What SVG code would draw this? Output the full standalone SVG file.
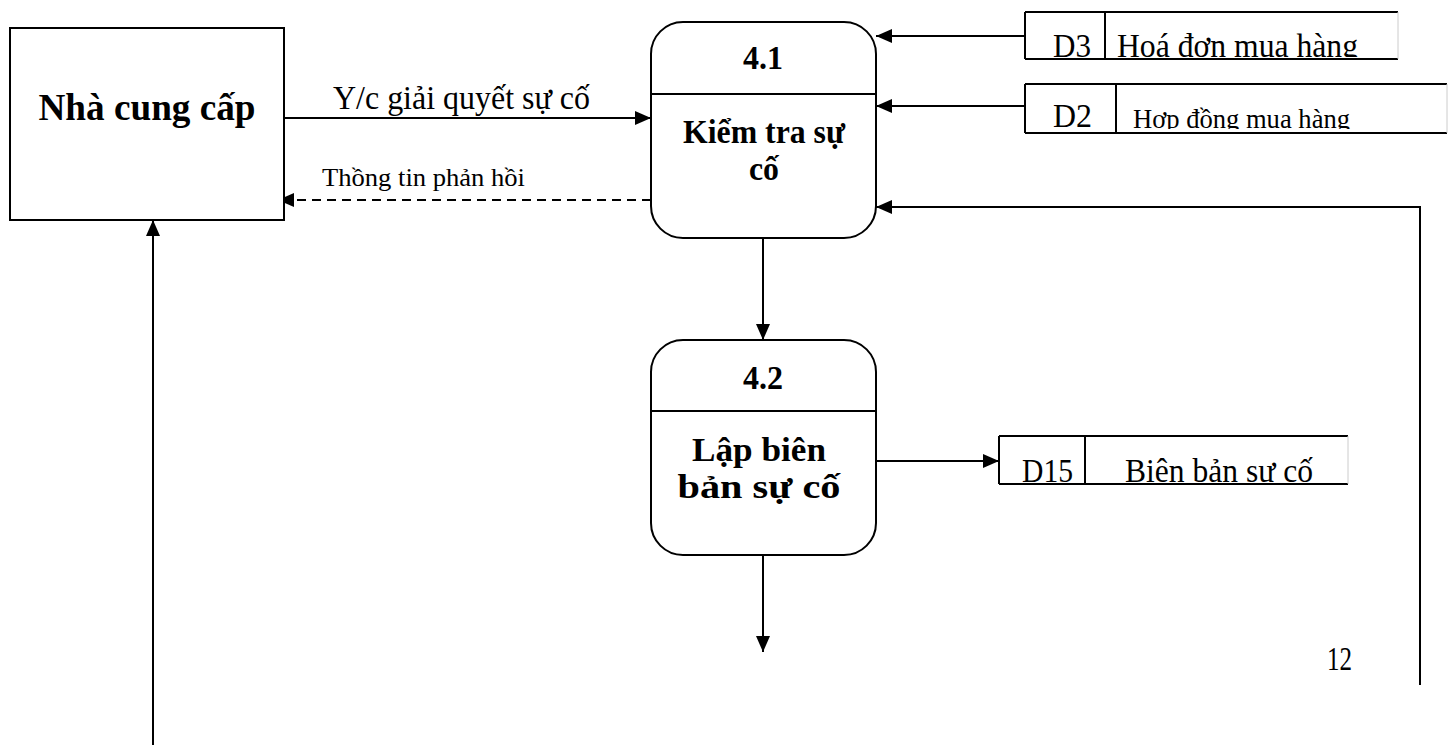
<svg xmlns="http://www.w3.org/2000/svg" width="1454" height="745" viewBox="0 0 1454 745">
<defs>
<marker id="ah" markerUnits="userSpaceOnUse" markerWidth="16" markerHeight="14" refX="16" refY="7" orient="auto">
<path d="M0,0 L16,7 L0,14 Z" fill="#000"/>
</marker>
<clipPath id="c3"><rect x="1025" y="0" width="420" height="57"/></clipPath>
<clipPath id="c2"><rect x="1025" y="80" width="420" height="49"/></clipPath>
<clipPath id="c15"><rect x="999" y="430" width="350" height="52"/></clipPath>
</defs>
<style>
text{font-family:"Liberation Serif","Times New Roman",serif;fill:#000}
.b{font-weight:bold}
.box{fill:#fff;stroke:#000;stroke-width:2}
.ln{stroke:#000;stroke-width:2;fill:none}
.st{stroke:#000;stroke-width:2}
.fa{stroke:#ccc;stroke-width:1}
.c{stroke:#000;stroke-width:2;fill:none;marker-end:url(#ah)}
</style>
<rect width="1454" height="745" fill="#fff"/>

<g id="connectors">
<path class="c" d="M277,118 H651"/>
<path class="c" d="M651,200 H278" stroke-dasharray="9,6"/>
<path class="c" d="M1025,36 H876"/>
<path class="c" d="M1025,106 H876"/>
<path class="c" d="M1420,685 V207 H876"/>
<path class="c" d="M763,238 V340"/>
<path class="c" d="M876,461 H999"/>
<path class="c" d="M763,555 V652"/>
<path class="c" d="M153,745 V220"/>
<text x="333" y="109" font-size="33" textLength="257" lengthAdjust="spacingAndGlyphs">Y/c giải quyết sự cố</text>
<text x="322" y="186" font-size="25" textLength="203" lengthAdjust="spacingAndGlyphs">Thồng tin phản hồi</text>
</g>

<g id="nha-cung-cap">
<rect class="box" x="10" y="28" width="274" height="192"/>
<text class="b" x="147" y="120" font-size="38" text-anchor="middle" textLength="217" lengthAdjust="spacingAndGlyphs">Nhà cung cấp</text>
</g>

<g id="p41">
<rect class="box" x="651" y="22" width="225" height="216" rx="32" ry="32"/>
<line class="ln" x1="651" y1="94" x2="876" y2="94"/>
<text class="b" x="763" y="69" font-size="34" text-anchor="middle" textLength="40" lengthAdjust="spacingAndGlyphs">4.1</text>
<text class="b" x="764" y="143" font-size="34" text-anchor="middle" textLength="162" lengthAdjust="spacingAndGlyphs">Kiểm tra sự</text>
<text class="b" x="764" y="180" font-size="34" text-anchor="middle" textLength="30" lengthAdjust="spacingAndGlyphs">cố</text>
</g>

<g id="p42">
<rect class="box" x="651" y="340" width="225" height="215" rx="32" ry="32"/>
<line class="ln" x1="651" y1="411" x2="876" y2="411"/>
<text class="b" x="763" y="389" font-size="34" text-anchor="middle" textLength="40" lengthAdjust="spacingAndGlyphs">4.2</text>
<text class="b" x="759" y="461" font-size="34" text-anchor="middle" textLength="134" lengthAdjust="spacingAndGlyphs">Lập biên</text>
<text class="b" x="759" y="498" font-size="34" text-anchor="middle" textLength="163" lengthAdjust="spacingAndGlyphs">bản sự cố</text>
</g>

<g id="d3">
<line class="st" x1="1025" y1="12" x2="1398" y2="12"/>
<line class="st" x1="1025" y1="59" x2="1398" y2="59"/>
<line class="st" x1="1025" y1="12" x2="1025" y2="59"/>
<line class="st" x1="1105" y1="12" x2="1105" y2="59"/>
<line class="fa" x1="1398" y1="12" x2="1398" y2="59"/>
<g clip-path="url(#c3)">
<text x="1053" y="57" font-size="34" textLength="38" lengthAdjust="spacingAndGlyphs">D3</text>
<text x="1117" y="57" font-size="34" textLength="241" lengthAdjust="spacingAndGlyphs">Hoá đơn mua hàng</text>
</g>
</g>

<g id="d2">
<line class="st" x1="1025" y1="84" x2="1447" y2="84"/>
<line class="st" x1="1025" y1="133" x2="1447" y2="133"/>
<line class="st" x1="1025" y1="84" x2="1025" y2="133"/>
<line class="st" x1="1116" y1="84" x2="1116" y2="133"/>
<line class="fa" x1="1447" y1="84" x2="1447" y2="133"/>
<g clip-path="url(#c2)">
<text x="1053" y="127" font-size="34" textLength="39" lengthAdjust="spacingAndGlyphs">D2</text>
<text x="1133" y="128" font-size="28" textLength="217" lengthAdjust="spacingAndGlyphs">Hợp đồng mua hàng</text>
</g>
</g>

<g id="d15">
<line class="st" x1="999" y1="436" x2="1348" y2="436"/>
<line class="st" x1="999" y1="484" x2="1348" y2="484"/>
<line class="st" x1="999" y1="436" x2="999" y2="484"/>
<line class="st" x1="1085" y1="436" x2="1085" y2="484"/>
<line class="fa" x1="1348" y1="436" x2="1348" y2="484"/>
<g clip-path="url(#c15)">
<text x="1022" y="482" font-size="34" textLength="51" lengthAdjust="spacingAndGlyphs">D15</text>
<text x="1125" y="482" font-size="34" textLength="188" lengthAdjust="spacingAndGlyphs">Biên bản sự cố</text>
</g>
</g>

<text x="1327" y="670" font-size="33" textLength="25" lengthAdjust="spacingAndGlyphs">12</text>
</svg>
